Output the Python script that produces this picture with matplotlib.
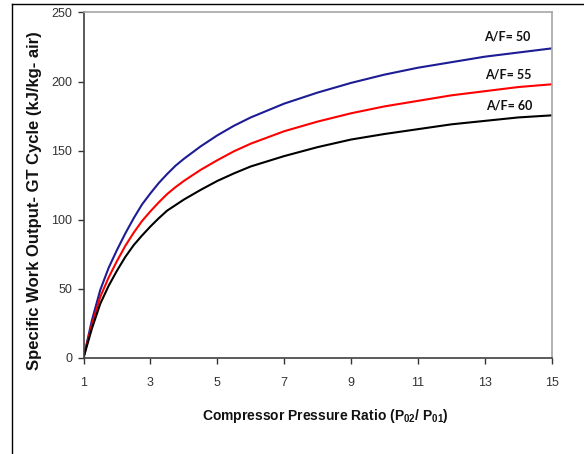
import matplotlib
matplotlib.use("Agg")
import matplotlib.pyplot as plt
from matplotlib.lines import Line2D

plt.rcParams['font.family'] = ['Liberation Sans', 'DejaVu Sans']
plt.rcParams['mathtext.fontset'] = 'custom'
plt.rcParams['mathtext.rm'] = 'Liberation Sans'
plt.rcParams['mathtext.bf'] = 'Liberation Sans:bold'
plt.rcParams['mathtext.default'] = 'bf'

# Pressure ratio (P02/P01)
ratio = [1, 1.25, 1.5, 1.75, 2, 2.25, 2.5, 2.75, 3, 3.25, 3.5, 3.75, 4,
         4.5, 5, 5.5, 6, 7, 8, 9, 10, 11, 12, 13, 14, 15]

# Specific work output (kJ/kg air) for each A/F
w_af50 = [0, 27, 49, 65, 78, 90, 101, 111, 119, 126.5, 133, 139, 144,
          153, 161, 168, 174, 184, 192, 199, 205, 210, 214, 218, 221, 224]
w_af55 = [0, 24, 44, 58, 70, 81, 90.5, 99, 106, 112.5, 118.5, 123.5, 128,
          136, 143, 149.5, 155, 164, 171, 177, 182, 186, 190, 193, 196, 198]
w_af60 = [0, 21, 39, 52, 63, 73, 81.5, 88.5, 95, 101, 106.5, 110.5, 114.5,
          121.5, 128, 133.5, 138.5, 146, 152.5, 158, 162, 165.5, 169, 171.5, 174, 175.5]

labels = ['A/F= 50', 'A/F= 55', 'A/F= 60']
label_x = [13.68, 13.70, 13.74]
label_y = [232.8, 205.4, 182.3]

xticks = [1, 3, 5, 7, 9, 11, 13, 15]
yticks = [0, 50, 100, 150, 200, 250]

fig = plt.figure(figsize=(5.84, 4.54), dpi=100)
ax = fig.add_axes([0.143, 0.2121, 0.8017, 0.7604])

ax.plot(ratio, w_af50, color='#1c1c94', lw=1.5)
ax.plot(ratio, w_af55, color='#ff0000', lw=1.5)
ax.plot(ratio, w_af60, color='#000000', lw=1.5)

for t, lx, ly in zip(labels, label_x, label_y):
    ax.text(lx, ly, t, ha='center', va='center', fontsize=9,
            fontweight='bold', family=['Lato', 'DejaVu Sans'], color='#111111')

ax.set_xlim(1, 15)
ax.set_ylim(0, 250)
ax.set_xticks(xticks)
ax.set_yticks(yticks)
ax.tick_params(axis='x', direction='out', length=4, width=1, pad=10,
               labelsize=9, colors='#333333')
ax.tick_params(axis='y', direction='out', length=4, width=1, pad=4,
               labelsize=9, colors='#333333')

for s in ['top', 'right']:
    ax.spines[s].set_color('#a6a6a6')
    ax.spines[s].set_linewidth(1.2)
for s in ['left', 'bottom']:
    ax.spines[s].set_color('#404040')
    ax.spines[s].set_linewidth(1.2)

ax.set_xlabel(r'Compressor Pressure Ratio (P$_{02}$/ P$_{01}$)',
              fontsize=10, fontweight='bold', color='#111111')
ax.xaxis.set_label_coords(0.516, -0.143)
ax.set_ylabel('Specific Work Output- GT Cycle (kJ/kg- air)',
              fontsize=12, fontweight='bold', color='#111111')
ax.yaxis.set_label_coords(-0.089, 0.456)

# outer frame (top and left edges only)
fig.add_artist(Line2D([12 / 584, 1], [1 - 4 / 454, 1 - 4 / 454],
                      transform=fig.transFigure, color='black', lw=1))
fig.add_artist(Line2D([12 / 584, 12 / 584], [0, 1 - 4 / 454],
                      transform=fig.transFigure, color='black', lw=1))

fig.savefig('out.png', dpi=100)
